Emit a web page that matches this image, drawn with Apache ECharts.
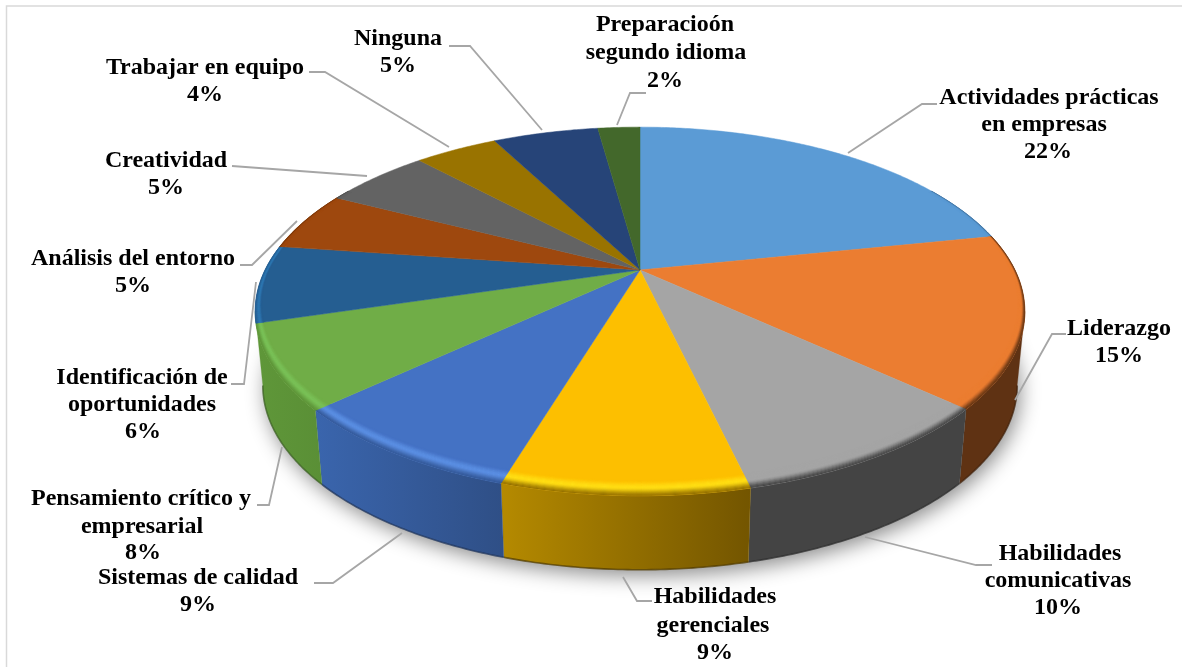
<!DOCTYPE html>
<html><head><meta charset="utf-8">
<style>html,body{margin:0;padding:0;background:#fff}#c{width:1182px;height:667px}</style>
<script src="https://cdn.jsdelivr.net/npm/echarts@6/dist/echarts.min.js"></script>
</head><body><div id="c"></div>
<script>
// ---- data ----
const categories = ['Actividades prácticas\nen empresas','Liderazgo','Habilidades\ncomunicativas','Habilidades\ngerenciales','Sistemas de calidad','Pensamiento crítico y\nempresarial','Identificación de\noportunidades','Análisis del entorno','Creatividad','Trabajar en equipo','Ninguna','Preparacioón\nsegundo idioma'];
const percentLabels = ['22%','15%','10%','9%','9%','8%','6%','5%','5%','4%','5%','2%'];
const sliceValues = [21.8,15,9.5,8.4,8.4,7.3,6.8,5.3,5.5,4.3,5.5,2.2];

// ---- styles & layout ----
const topColors  = ['#5B9BD5','#EB7D31','#A5A5A5','#FDBF00','#4472C4','#70AD47','#255E91','#9E480E','#636363','#997300','#264478','#43682B'];
const glowColors = ['#5B9BD5','#EB7D31','#A5A5A5','#FFDF14','#5C90E4','#7AC258','#2E78B2','#9E480E','#636363','#997300','#264478','#43682B'];
const sideLeft   = ['#4a7dab','#5f3213','#444444','#b58a00','#3a65ad','#5f9739','#255E91','#7a380b','#4d4d4d','#765900','#1d3560','#345122'];
const sideRight  = ['#3d6a93','#5f3213','#444444','#735500','#2f4f86','#5a8f36','#255E91','#7a380b','#4d4d4d','#765900','#1d3560','#345122'];
const lineCentersX = [[1049,1044,1048],[1119,1119],[1060,1058,1058],[715,713,715],[198,198],[141,142,143],[142,142,143],[133,133],[166,166],[205,205],[398,398],[665,666,665]];
const lineCentersY = [[98,125,152],[329,356],[554,581,608],[597,626,653],[578,605],[499,527,553],[378,405,432],[259,286],[161,188],[68,95],[39,66],[25,53,81]];
const leaders = [
 [[848,153],[922,104],[937,104]],[[1015,400],[1052,334],[1066,334]],[[865,537],[976,565],[992,565]],
 [[623,577],[637,601],[652,601]],[[402,533],[333,583],[314,583]],[[282,447],[269,505],[257,505]],
 [[256,282],[244,384],[231,384]],[[297,221],[252,265],[240,265]],[[367,176],[232,166]],
 [[449,147],[325,72],[309,72]],[[542,130],[470,46],[449,46]],[[617,125],[630,93],[646,93]]];
const G = {cx:640, cy:270, A:375, B:175, k:0.2248, depth:74, bottomScale:0.98, bevelMin:0.013, bevelFront:0.057};

const total = sliceValues.reduce((a,b)=>a+b,0);
const starts = []; sliceValues.reduce((a,b,i)=>(starts[i]=a,a+b),0);
const angle = p => p/total*2*Math.PI;
function rim(t){ // t: clockwise from top; perspective circle
  const u=Math.sin(t), v=-Math.cos(t), d=1-G.k*v;
  return {x:G.cx+G.A*u/d, y:G.cy+G.B*v/d, v};
}
function bottom(t){ const p=rim(t); return [G.cx+(p.x-G.cx)*G.bottomScale, p.y+G.depth]; }
function bevel(t,f){ // f: 0 rim ... 1 inner edge of bevel; moves along the slice's own radius
  const p=rim(t);
  const e=G.bevelMin+G.bevelFront*Math.pow(Math.max(0,p.v),1.5);
  return [G.cx+(p.x-G.cx)*(1-e*f), G.cy+(p.y-G.cy)*(1-e*f)];
}
function samples(a,b){ const n=Math.max(2,Math.ceil((b-a)/0.01)),o=[]; for(let i=0;i<=n;i++)o.push(a+(b-a)*i/n); return o; }
function hex(c){ return [1,3,5].map(i=>parseInt(c.substr(i,2),16)); }
function mix(c1,c2,f){ const a=hex(c1),b=hex(c2); return '#'+a.map((x,i)=>Math.round(x+(b[i]-x)*f).toString(16).padStart(2,'0')).join(''); }
const thR=Math.acos(-G.k), thL=2*Math.PI-thR;

const shadowItem=()=>({type:'polygon',shape:{points:samples(0,2*Math.PI).map(bottom)},
  style:{fill:'#fff',shadowBlur:20,shadowColor:'rgba(0,0,0,0.45)',shadowOffsetX:3,shadowOffsetY:6}});
function sideItem(p,api){
  const i=api.value(0),a=Math.max(angle(starts[i]),thR);
  let b=Math.min(angle(starts[i]+sliceValues[i]),thL);
  if(b-a<0.1) return {type:'group',children:[]};
  if(thL-b<0.1) b=thL; // the last sliver at the silhouette belongs to the visible wall
  const s=samples(a,b);
  const pts=s.map(t=>{const r=rim(t);return [r.x,r.y];}).concat(s.slice().reverse().map(bottom));
  const fill=new echarts.graphic.LinearGradient(0,0,1,0,[{offset:0,color:sideLeft[i]},{offset:1,color:sideRight[i]}]);
  return {type:'group',children:[
    {type:'polygon',shape:{points:pts},style:{fill,stroke:mix(sideLeft[i],sideRight[i],0.5),lineWidth:0.3}},
    {type:'polyline',shape:{points:s.map(bottom)},style:{fill:null,stroke:mix(sideRight[i],'#000000',0.35),lineWidth:1.6,opacity:0.7}}
  ]};
}
function topItem(p,api){
  const i=api.value(0),a=angle(starts[i]),b=angle(starts[i]+sliceValues[i]);
  const pts=[[G.cx,G.cy]].concat(samples(a,b).map(t=>{const r=rim(t);return [r.x,r.y];}));
  return {type:'polygon',shape:{points:pts},style:{fill:topColors[i],stroke:topColors[i],lineWidth:0.5}};
}
function smooth(x){ x=Math.max(0,Math.min(1,x)); return x*x*(3-2*x); }
function bevelItem(p,api){
  const i=api.value(0),a=Math.max(angle(starts[i]),Math.PI/3),b=Math.min(angle(starts[i]+sliceValues[i]),2*Math.PI-Math.PI/3);
  if(b<=a) return {type:'group',children:[]};
  const s=samples(a,b), n=16, kids=[], edge=mix(sideLeft[i],sideRight[i],0.5), peak=0.55;
  for(let j=0;j<n;j++){
    const f0=j/n,f1=(j+1)/n,m=(f0+f1)/2; // m: 0 rim .. 1 inner
    const col = m>peak ? mix(glowColors[i],topColors[i],smooth((m-peak)/(1-peak)))
                       : mix(edge,glowColors[i],smooth(m/peak));
    const pts=s.map(t=>bevel(t,f1)).concat(s.slice().reverse().map(t=>bevel(t,f0)));
    kids.push({type:'polygon',shape:{points:pts},style:{fill:col,stroke:col,lineWidth:0.4}});
  }
  return {type:'group',children:kids};
}
const idx=sliceValues.map((v,i)=>[i]);
const custom=(data,fn,z)=>({type:'custom',coordinateSystem:'none',data,renderItem:fn,z,silent:true,animation:false,clip:false});

const graphics=[
 {type:'polyline',shape:{points:[[1400,6],[6.5,6],[6.5,800]]},style:{fill:null,stroke:'#d9d9d9',lineWidth:1.5},silent:true}
];
leaders.forEach(l=>graphics.push({type:'polyline',z:20,shape:{points:l},style:{fill:null,stroke:'#a6a6a6',lineWidth:1.8},silent:true}));
categories.forEach((c,i)=>{
  (c+'\n'+percentLabels[i]).split('\n').forEach((line,j)=>graphics.push({type:'text',z:30,x:lineCentersX[i][j],y:lineCentersY[i][j],silent:true,
    style:{text:line,fill:'#000',font:'bold 24px "Liberation Serif"',align:'center',verticalAlign:'middle'}}));
});

echarts.init(document.getElementById('c'),null,{renderer:'canvas'}).setOption({
  animation:false,backgroundColor:'#fff',
  series:[custom([[0]],shadowItem,1),custom(idx,sideItem,2),custom(idx,topItem,3),custom(idx,bevelItem,4)],
  graphic:graphics
});
</script></body></html>
